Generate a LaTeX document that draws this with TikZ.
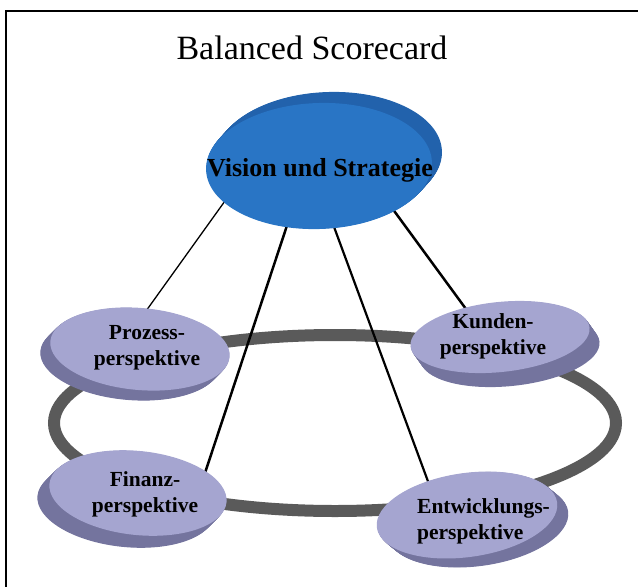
\documentclass[tikz,border=0pt]{standalone}
\usepackage{fontspec}
\setmainfont{Liberation Serif}
\usetikzlibrary{shapes.geometric}
\pgfdeclarelayer{bg}
\pgfsetlayers{bg,main}
\definecolor{visblue}{RGB}{41,117,197}
\definecolor{visside}{RGB}{34,98,172}
\definecolor{lav}{RGB}{165,165,208}
\definecolor{lavside}{RGB}{116,116,158}
\definecolor{ringgray}{RGB}{90,90,90}
\tikzset{
  face/.style={ellipse, inner sep=0pt, draw=none},
  lbl/.style={font=\bfseries\fontsize{21.5}{26}\selectfont, align=center, inner sep=0pt},
  connline/.style={black, shorten <=-4pt, shorten >=-4pt},
}
\begin{document}
\begin{tikzpicture}[x=1pt,y=-1pt]
\useasboundingbox (0,0) rectangle (638,587);
% frame
\draw[line width=2pt] (6,587) -- (6,11) -- (638,11);
% title
\node[font=\fontsize{34}{40}\selectfont, inner sep=0pt] (title) at (312,48) {Balanced Scorecard};
% ring centre
\coordinate (ringc) at (335,423);

% Vision
\foreach \t in {1,0.95,...,0.0} {
  \fill[visside, rotate around={2:(319+10*\t,166-11*\t)}] (319+10*\t,166-11*\t) ellipse [x radius=113, y radius=63];
}
\node[face, fill=visblue, minimum width=226pt, minimum height=126pt, rotate=2] (vision) at (319,166) {};
\node[font=\bfseries\fontsize{26}{30}\selectfont, inner sep=0pt] (visionlbl) at (320,170) {Vision und Strategie};

% Prozess
\foreach \t in {1,0.95,...,0.0} {
  \fill[lavside, rotate around={-5:(140-10*\t,349+10*\t)}] (140-10*\t,349+10*\t) ellipse [x radius=90, y radius=41];
}
\node[face, fill=lav, minimum width=180pt, minimum height=82pt, rotate=-5] (prozess) at (140,349) {};
\node[lbl] (prozesslbl) at (147,348) {Prozess-\\perspektive};

% Kunden
\foreach \t in {1,0.95,...,0.0} {
  \fill[lavside, rotate around={6:(500+10*\t,337+14*\t)}] (500+10*\t,337+14*\t) ellipse [x radius=90, y radius=35];
}
\node[face, fill=lav, minimum width=180pt, minimum height=70pt, rotate=6] (kunden) at (500,337) {};
\node[lbl] (kundenlbl) at (493,336) {Kunden-\\perspektive};

% Finanz
\foreach \t in {1,0.95,...,0.0} {
  \fill[lavside, rotate around={-6:(138-12*\t,493+12*\t)}] (138-12*\t,493+12*\t) ellipse [x radius=89, y radius=42];
}
\node[face, fill=lav, minimum width=178pt, minimum height=84pt, rotate=-6] (finanz) at (138,493) {};
\node[lbl] (finanzlbl) at (145,494) {Finanz-\\perspektive};

% Entwicklung
\foreach \t in {1,0.95,...,0.0} {
  \fill[lavside, rotate around={8:(467+11*\t,515+9*\t)}] (467+11*\t,515+9*\t) ellipse [x radius=91, y radius=42];
}
\node[face, fill=lav, minimum width=182pt, minimum height=84pt, rotate=8] (entw) at (467,515) {};
\node[lbl, align=left, anchor=west] (entwlbl) at (417,521) {Entwicklungs-\\perspektive};

\begin{pgfonlayer}{bg}
  \draw[ringgray, line width=12pt] (ringc) ellipse [x radius=281, y radius=88];
  \draw[connline, line width=1.3pt] (vision.199) -- (prozess.84);
  \draw[connline, line width=2.5pt] (vision.240) -- (finanz.24);
  \draw[connline, line width=2.2pt] (vision.282) -- (entw.131);
  \draw[connline, line width=2.5pt] (vision.327) -- (kunden.134);
\end{pgfonlayer}
\end{tikzpicture}
\end{document}
